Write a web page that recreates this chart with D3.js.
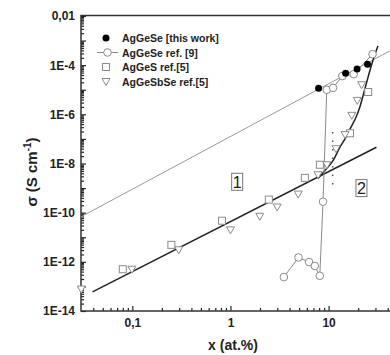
<!DOCTYPE html>
<html>
<head>
<meta charset="utf-8">
<script src="https://cdn.jsdelivr.net/npm/d3@7"></script>
<style>
  body { margin: 0; background: #fff; }
  svg { display: block; font-family: "Liberation Sans", Arial, sans-serif; }
</style>
</head>
<body>
<script>
// values: [x (at.%), sigma (S/cm)]
const thisWork = [[7.9, 1.15e-5], [14.9, 4.7e-5], [19.5, 7.0e-5], [24.9, 1.1e-4]];

const ref9 = [[3.5, 2.4e-13], [4.93, 1.5e-12], [6.32, 9.8e-13], [7.23, 6.8e-13], [8.13, 2.7e-13],
  [8.77, 2.8e-10], [9.58, 1.0e-5], [11.1, 1.2e-5], [13.8, 3.6e-5], [18.0, 4.3e-5], [28.0, 2.8e-4]];

const agGeS = [[0.080, 5.0e-13], [0.25, 4.9e-12], [0.82, 4.7e-11], [2.46, 3.4e-10], [5.73, 2.6e-9],
  [8.15, 8.9e-9], [16.5, 1.7e-7], [25.3, 8.1e-6]];

const agGeSbSe = [[0.0302, 7.8e-14], [0.099, 5.0e-13], [0.297, 3.1e-12], [1.0, 2.0e-11], [1.99, 7.1e-11],
  [2.99, 1.7e-10], [4.9, 5.7e-10], [7.8, 3.5e-9], [9.6, 8.9e-9], [11.9, 4.0e-8], [14.7, 1.5e-7],
  [17.2, 9.1e-7], [19.6, 3.7e-6], [21.7, 1.6e-5]];

// fitted lines
const grayFit = [[0.03, 6.8e-11], [42, 3.8e-4]];
const blackFit = [[0.0393, 6.0e-14], [30.7, 4.6e-8]];
const percCurve = [[7.78, 2.4e-9], [9.17, 5.2e-9], [11.1, 1.3e-8], [13.0, 4.5e-8], [15.0, 1.15e-7],
  [16.9, 3.0e-7], [19.0, 7.6e-7], [20.9, 2.1e-6], [22.9, 7.9e-6], [25.2, 3.2e-5], [27.7, 1.2e-4], [31.8, 6.0e-4]];
const dottedLine = [[11.0, 1.9e-7], [11.0, 9.3e-10]];

const regionLabels = [{ t: "1", x: 1.17, y: 1.8e-9 }, { t: "2", x: 21.6, y: 1.0e-9 }];

const xLabelTicks = [0.1, 1, 10];
const yMajor = d3.range(-14, -1).map(e => Math.pow(10, e));
const yLabelled = { "-2": "0,01", "-4": "1E-4", "-6": "1E-6", "-8": "1E-8", "-10": "1E-10", "-12": "1E-12", "-14": "1E-14" };

const legendItems = [
  { name: "AgGeSe [this work]", kind: "dot" },
  { name: "AgGeSe ref. [9]", kind: "circle" },
  { name: "AgGeS ref.[5]", kind: "square" },
  { name: "AgGeSbSe ref.[5]", kind: "tri" }
];

const W = 390, H = 355;
const mLeft = 81, mTop = 16, mBottom = 311;

const svg = d3.select("body").append("svg").attr("width", W).attr("height", H);

const x = d3.scaleLog().domain([0.03, 50]).range([mLeft, mLeft + 98.15 * Math.log10(50 / 0.03)]);
const y = d3.scaleLog().domain([1e-14, 1e-2]).range([mBottom, mTop]);

const ink = "#222";
const grey = "#8a8a8a";

// minor ticks
const yMinor = [];
for (let e = -14; e < -2; e++) for (let k = 2; k <= 9; k++) yMinor.push(k * Math.pow(10, e));
const xMinor = [];
[0.01, 0.1, 1, 10].forEach(d => { for (let k = 2; k <= 9; k++) { const v = k * d; if (v > 0.03 && v < 45) xMinor.push(v); } });

const yMinAxis = svg.append("g").attr("transform", `translate(${mLeft},0)`)
  .call(d3.axisLeft(y).tickValues(yMinor).tickSize(-3).tickFormat(""));
const yAxis = svg.append("g").attr("transform", `translate(${mLeft},0)`)
  .call(d3.axisLeft(y).tickValues(yMajor).tickSize(-5).tickPadding(6)
    .tickFormat(d => yLabelled[Math.round(Math.log10(d))] || ""));
const xMinAxis = svg.append("g").attr("transform", `translate(0,${mBottom})`)
  .call(d3.axisBottom(x).tickValues(xMinor).tickSize(-3).tickFormat(""));
const xAxis = svg.append("g").attr("transform", `translate(0,${mBottom})`)
  .call(d3.axisBottom(x).tickValues(xLabelTicks).tickSize(-5).tickPadding(7)
    .tickFormat(d => d === 0.1 ? "0,1" : String(d)));

[yMinAxis, yAxis, xMinAxis, xAxis].forEach(g => {
  g.select(".domain").remove();
  g.selectAll("line").attr("stroke", ink).attr("stroke-width", 1.2);
  g.selectAll("text").attr("fill", ink).style("font-size", "12px").style("font-weight", "bold");
});

// frame (right side runs off the picture)
svg.append("path")
  .attr("d", `M${W},${mTop - 0.5}H${mLeft}V${mBottom}H${W}`)
  .attr("fill", "none").attr("stroke", "#333").attr("stroke-width", 1.5);

// axis titles
svg.append("text").attr("x", 233).attr("y", 350).attr("text-anchor", "middle")
  .style("font-size", "14px").style("font-weight", "bold").attr("fill", ink).text("x (at.%)");

const yt = svg.append("text").attr("transform", "translate(37,172) rotate(-90)")
  .attr("text-anchor", "middle").style("font-size", "15px").style("font-weight", "bold").attr("fill", ink);
yt.append("tspan").text("σ (S cm");
yt.append("tspan").attr("dy", -6).style("font-size", "10px").text("-1");
yt.append("tspan").attr("dy", 6).text(")");

const plot = svg.append("g");
const line = d3.line().x(d => x(d[0])).y(d => y(d[1]));

plot.append("path").attr("d", line(grayFit)).attr("fill", "none").attr("stroke", "#999").attr("stroke-width", 1);
plot.append("path").attr("d", line(blackFit)).attr("fill", "none").attr("stroke", ink).attr("stroke-width", 1.5);
plot.append("path").attr("d", d3.line().curve(d3.curveMonotoneX).x(d => x(d[0])).y(d => y(d[1]))(percCurve))
  .attr("fill", "none").attr("stroke", ink).attr("stroke-width", 1.5);
plot.append("path").attr("d", line(dottedLine)).attr("fill", "none").attr("stroke", "#555")
  .attr("stroke-width", 1.5).attr("stroke-dasharray", "1.5,7");
plot.append("path").attr("d", line(ref9)).attr("fill", "none").attr("stroke", grey).attr("stroke-width", 1);

// marker helpers
function square(g, cx, cy) {
  g.append("rect").attr("x", cx - 3.5).attr("y", cy - 3.5).attr("width", 7).attr("height", 7)
    .attr("fill", "#fff").attr("stroke", grey).attr("stroke-width", 1);
}
function tri(g, cx, cy) {
  g.append("path").attr("d", `M${cx - 4},${cy - 3}L${cx + 4},${cy - 3}L${cx},${cy + 4}Z`)
    .attr("fill", "#fff").attr("stroke", grey).attr("stroke-width", 1);
}
function circ(g, cx, cy) {
  g.append("circle").attr("cx", cx).attr("cy", cy).attr("r", 3.8)
    .attr("fill", "#fff").attr("stroke", grey).attr("stroke-width", 1);
}
function dot(g, cx, cy) {
  g.append("circle").attr("cx", cx).attr("cy", cy).attr("r", 3.5).attr("fill", "#000");
}

agGeS.forEach(d => square(plot, x(d[0]), y(d[1])));
agGeSbSe.forEach(d => tri(plot, x(d[0]), y(d[1])));
ref9.forEach(d => circ(plot, x(d[0]), y(d[1])));
thisWork.forEach(d => dot(plot, x(d[0]), y(d[1])));

// region labels in boxes
regionLabels.forEach(r => {
  const cx = x(r.x), cy = y(r.y);
  plot.append("rect").attr("x", cx - 5.5).attr("y", cy - 8.5).attr("width", 11).attr("height", 17)
    .attr("fill", "#fff").attr("stroke", "#777").attr("stroke-width", 1);
  plot.append("text").attr("x", cx).attr("y", cy + 6).attr("text-anchor", "middle")
    .style("font-size", "16px").attr("fill", ink).text(r.t);
});

// legend
const lg = svg.append("g");
legendItems.forEach((it, i) => {
  const ly = 38 + i * 14.5;
  if (it.kind === "dot") dot(lg, 106, ly);
  if (it.kind === "circle") {
    lg.append("line").attr("x1", 97).attr("x2", 118).attr("y1", ly).attr("y2", ly)
      .attr("stroke", grey).attr("stroke-width", 1);
    circ(lg, 107.5, ly);
  }
  if (it.kind === "square") square(lg, 106, ly);
  if (it.kind === "tri") tri(lg, 106, ly);
  lg.append("text").attr("x", 122).attr("y", ly + 4).style("font-size", "10.5px")
    .style("font-weight", "bold").attr("fill", ink).text(it.name);
});
</script>
</body>
</html>
